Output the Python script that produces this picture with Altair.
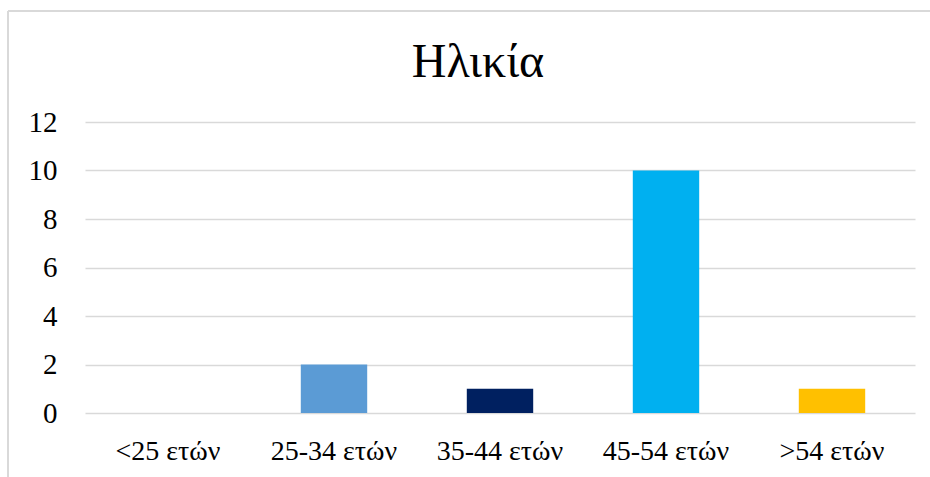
import altair as alt
import pandas as pd

# Age groups and respondent counts
categories = ["<25 ετών", "25-34 ετών", "35-44 ετών", "45-54 ετών", ">54 ετών"]
counts = [0, 2, 1, 10, 1]
colors = ["#4472C4", "#5B9BD5", "#002060", "#00B0F0", "#FFC000"]
chart_title = "Ηλικία"

df = pd.DataFrame({"group": categories, "count": counts, "color": colors})

W, H = 830, 291
LEFT, TOP = 85, 122
SERIF = "Liberation Serif"

bars = alt.Chart(df).mark_bar().encode(
    x=alt.X(
        "group:N",
        sort=categories,
        title=None,
        scale=alt.Scale(paddingInner=0.6, paddingOuter=0.3),
        axis=alt.Axis(
            labelAngle=0,
            labelFont=SERIF,
            labelFontSize=28,
            labelColor="#000000",
            labelPadding=24,
            domain=False,
            ticks=False,
            grid=False,
        ),
    ),
    y=alt.Y(
        "count:Q",
        title=None,
        scale=alt.Scale(domain=[0, 12]),
        axis=alt.Axis(
            values=[0, 2, 4, 6, 8, 10, 12],
            labelFont=SERIF,
            labelFontSize=29,
            labelColor="#000000",
            labelPadding=28,
            domain=False,
            ticks=False,
            grid=True,
            gridColor="#d9d9d9",
            gridWidth=1.5,
        ),
    ),
    color=alt.Color("color:N", scale=None, legend=None),
)

# Chart-area frame (left and top edges)
frame = pd.DataFrame({"k": [0]})
frame_left = alt.Chart(frame).mark_rule(color="#d9d9d9", strokeWidth=2).encode(
    x=alt.value(8 - LEFT), y=alt.value(11 - TOP), y2=alt.value(477 - TOP)
)
frame_top = alt.Chart(frame).mark_rule(color="#d9d9d9", strokeWidth=2).encode(
    x=alt.value(8 - LEFT), x2=alt.value(930 - LEFT), y=alt.value(11 - TOP)
)

# Chart title, centred on the chart area
title = alt.Chart(pd.DataFrame({"t": [chart_title]})).mark_text(
    font=SERIF, fontSize=48, color="#000000", align="center", baseline="alphabetic"
).encode(
    text="t:N",
    x=alt.value(478 - LEFT),
    y=alt.value(77 - TOP),
)

chart = (
    alt.layer(bars, frame_left, frame_top, title)
    .properties(
        width=W,
        height=H,
        padding={"left": LEFT, "top": TOP, "right": 930 - LEFT - W, "bottom": 477 - TOP - H},
        autosize=alt.AutoSizeParams(type="none"),
        view=alt.ViewBackground(stroke="transparent", strokeWidth=0),
    )
    .configure_view(stroke="transparent", strokeWidth=0)
    .configure(background="white")
)

chart.save("out.html", embed_options={"renderer": "svg", "actions": False})
